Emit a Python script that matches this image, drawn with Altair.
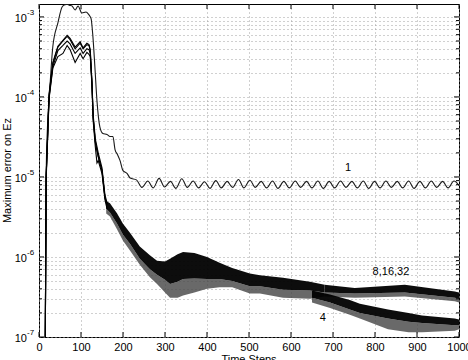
import altair as alt
import pandas as pd

# ---------------- data ----------------
# curve "1"
c1_steps = [15, 17, 20, 25, 33, 45, 55, 62, 67, 72, 78, 86, 93, 102, 112, 119, 124, 128, 133, 138,
            145, 152, 162, 169, 176, 181, 187, 193, 200, 210, 217,
            232, 245, 259, 272, 286, 299, 313, 326, 340, 353, 367, 380, 394, 407, 421, 434, 448, 461,
            475, 488, 502, 515, 529, 542, 556, 569, 583, 596, 610, 623, 637, 650, 664, 677, 691, 704,
            718, 731, 745, 758, 772, 785, 799, 812, 826, 839, 853, 866, 880, 893, 907, 920, 934, 947,
            961, 974, 988, 1000]
c1_vals = [1e-7, 1e-5, 4e-5, 1.1e-4, 4.3e-4, 8.4e-4, 1.33e-3, 1.42e-3, 1.44e-3, 1.40e-3, 1.38e-3,
           1.22e-3, 1.37e-3, 1.12e-3, 1.15e-3, 1.06e-3, 9.5e-4, 6e-4, 2.4e-4, 9e-5,
           4.2e-5, 3.5e-5, 3.4e-5, 3.2e-5, 3.2e-5, 2.2e-5, 1.9e-5, 1.6e-5, 1.2e-5, 1.1e-5, 9.7e-6,
           9.2e-6, 7.4e-6, 8.9e-6, 7.3e-6, 9.6e-6, 7.5e-6, 8.8e-6, 7.2e-6, 9.5e-6, 7.4e-6, 8.9e-6,
           7.3e-6, 8.7e-6, 7.2e-6, 9.0e-6, 7.3e-6, 8.8e-6, 7.4e-6, 9.3e-6, 7.3e-6, 9.1e-6, 7.4e-6,
           8.8e-6, 7.3e-6, 8.9e-6, 7.2e-6, 8.8e-6, 7.3e-6, 8.9e-6, 7.4e-6, 8.8e-6, 7.3e-6, 8.9e-6,
           7.2e-6, 8.8e-6, 7.3e-6, 8.9e-6, 7.4e-6, 8.8e-6, 7.3e-6, 8.9e-6, 7.2e-6, 8.8e-6, 7.3e-6,
           8.9e-6, 7.4e-6, 8.8e-6, 7.3e-6, 8.9e-6, 7.2e-6, 8.8e-6, 7.3e-6, 8.9e-6, 7.4e-6, 8.8e-6,
           7.3e-6, 8.9e-6, 7.8e-6]

# curves 4, 8, 16, 32 before they merge into a band
early_steps = [15, 17, 24, 33, 45, 57, 67, 74, 86, 98, 105, 114, 119, 122, 126, 129, 134, 138, 141, 150, 157, 162]
early_8 = [1e-7, 1e-5, 1.1e-4, 2.7e-4, 4.3e-4, 5.1e-4, 5.9e-4, 5.4e-4, 4.2e-4, 4.9e-4, 4.1e-4, 4.7e-4,
           4.5e-4, 3.9e-4, 1.6e-4, 6e-5, 3e-5, 2.4e-5, 2.0e-5, 1.3e-5, 6e-6, 4.7e-6]
early_16 = [1e-7, 1e-5, 1.05e-4, 2.6e-4, 4.2e-4, 5.0e-4, 5.7e-4, 5.2e-4, 4.0e-4, 4.7e-4, 4.0e-4, 4.5e-4,
            4.4e-4, 3.8e-4, 1.5e-4, 5.5e-5, 2.8e-5, 2.2e-5, 1.8e-5, 1.2e-5, 5.6e-6, 4.5e-6]
early_32 = [1e-7, 1e-5, 1.0e-4, 2.4e-4, 3.8e-4, 4.4e-4, 5.0e-4, 4.6e-4, 3.5e-4, 4.1e-4, 3.5e-4, 4.0e-4,
            3.9e-4, 3.5e-4, 1.5e-4, 5.5e-5, 2.7e-5, 2.1e-5, 1.8e-5, 1.2e-5, 5.5e-6, 4.4e-6]
early_4 = [1e-7, 9e-6, 9.5e-5, 2.3e-4, 3.2e-4, 3.5e-4, 4.4e-4, 3.9e-4, 2.7e-4, 3.5e-4, 3.0e-4, 3.6e-4,
           3.4e-4, 3.2e-4, 1.4e-4, 5e-5, 2.4e-5, 1.5e-5, 1.6e-5, 1.1e-5, 5.2e-6, 4.0e-6]

# merged band of curves 4, 8, 16, 32 (upper edge, lower edge of dark core, tip of the spikes)
band_steps = [160, 169, 186, 200, 217, 240, 264, 281, 300, 312, 330, 343, 370, 400, 430, 460, 502, 526, 581, 645, 680]
band_top = [5.0e-6, 4.7e-6, 3.5e-6, 2.6e-6, 2.0e-6, 1.35e-6, 1.05e-6, 9.0e-7, 8.8e-7, 9.5e-7, 1.08e-6, 1.15e-6,
            1.12e-6, 1.0e-6, 8.5e-7, 7.3e-7, 6.2e-7, 5.9e-7, 5.5e-7, 4.9e-7, 4.5e-7]
band_core = [4.0e-6, 3.6e-6, 2.6e-6, 1.9e-6, 1.45e-6, 9.5e-7, 7.0e-7, 6.0e-7, 5.2e-7, 4.6e-7, 4.9e-7, 5.3e-7,
             5.4e-7, 5.3e-7, 5.3e-7, 5.0e-7, 4.3e-7, 4.3e-7, 3.9e-7, 3.8e-7, 3.6e-7]
band_spike = [3.5e-6, 3.2e-6, 2.2e-6, 1.6e-6, 1.2e-6, 8.0e-7, 5.6e-7, 4.6e-7, 3.6e-7, 3.1e-7, 3.1e-7, 3.3e-7,
              3.6e-7, 4.0e-7, 4.2e-7, 4.2e-7, 3.5e-7, 3.5e-7, 3.1e-7, 3.0e-7, 3.2e-7]

# band of curves 8, 16, 32 after the split
up_steps = [680, 752, 871, 990, 1000]
up_top = [4.5e-7, 4.1e-7, 4.5e-7, 3.7e-7, 3.6e-7]
up_core = [3.6e-7, 3.5e-7, 3.6e-7, 3.1e-7, 3.0e-7]
up_spike = [3.2e-7, 3.1e-7, 3.2e-7, 2.8e-7, 2.7e-7]

# band of curve 4 after the split
low_steps = [650, 693, 740, 764, 831, 880, 912, 990, 1000]
low_top = [3.8e-7, 3.4e-7, 2.9e-7, 2.6e-7, 2.2e-7, 2.0e-7, 1.85e-7, 1.7e-7, 1.65e-7]
low_core = [3.1e-7, 2.7e-7, 2.2e-7, 2.0e-7, 1.7e-7, 1.55e-7, 1.5e-7, 1.4e-7, 1.4e-7]
low_spike = [2.7e-7, 2.3e-7, 1.9e-7, 1.7e-7, 1.25e-7, 1.15e-7, 1.15e-7, 1.2e-7, 1.25e-7]

# annotations
ann_text = ["1", "8,16,32", "4"]
ann_x = [736, 838, 676]
ann_y = [1.3e-5, 6.5e-7, 1.74e-7]

# axes
x_ticks = [0, 100, 200, 300, 400, 500, 600, 700, 800, 900, 1000]
y_major = [1e-7, 1e-6, 1e-5, 1e-4, 1e-3]
y_exp = ["-7", "-6", "-5", "-4", "-3"]
y_minor = [m * 10.0 ** k for k in range(-7, -3 + 1) for m in range(2, 10) if m * 10.0 ** k < 1.45e-3]
y_grid = sorted(y_major + y_minor)

# ---------------- chart ----------------
W, H = 420, 333
FONT = "Liberation Sans"
GRID = "#a0a0a0"
xs = alt.Scale(domain=[0, 1000], nice=False, zero=False)
ys = alt.Scale(type="log", domain=[1e-7, 1.45e-3], nice=False)

df1 = pd.DataFrame({"step": c1_steps, "err": c1_vals})
early = pd.concat([
    pd.DataFrame({"step": early_steps, "err": v, "s": name})
    for name, v in [("4", early_4), ("32", early_32), ("16", early_16), ("8", early_8)]
])
bands = pd.concat([
    pd.DataFrame({"step": band_steps, "top": band_top, "core": band_core, "spike": band_spike, "b": "all"}),
    pd.DataFrame({"step": up_steps, "top": up_top, "core": up_core, "spike": up_spike, "b": "up"}),
    pd.DataFrame({"step": low_steps, "top": low_top, "core": low_core, "spike": low_spike, "b": "low"}),
])

x_axis = alt.Axis(values=x_ticks, grid=True, gridColor=GRID, gridDash=[1, 3], gridWidth=1,
                  ticks=False, domain=False, labelFont=FONT, labelFontSize=11, labelColor="black",
                  labelPadding=4, labelFlush=False, title=None, format="d")
y_axis = alt.Axis(values=y_grid, grid=True, gridColor=GRID, gridDash=[1, 3], gridWidth=1,
                  ticks=False, domain=False, labels=False, title=None)


def X(field):
    return alt.X(field, scale=xs, axis=x_axis)


def Y(field):
    return alt.Y(field, scale=ys, axis=y_axis)


curve1 = alt.Chart(df1).mark_line(color="#1a1a1a", strokeWidth=1.1, clip=True, interpolate="monotone").encode(
    x=X("step:Q"), y=Y("err:Q"))

early_lines = alt.Chart(early).mark_line(color="black", strokeWidth=1.1, clip=True).encode(
    x=X("step:Q"), y=Y("err:Q"), detail="s:N")

spike_area = alt.Chart(bands).mark_area(color="#444444", opacity=0.8, clip=True).encode(
    x=X("step:Q"), y=Y("core:Q"), y2="spike:Q", detail="b:N")
core_area = alt.Chart(bands).mark_area(color="black", opacity=0.95, clip=True).encode(
    x=X("step:Q"), y=Y("top:Q"), y2="core:Q", detail="b:N")

ann = alt.Chart(pd.DataFrame({"t": ann_text, "x": ann_x, "y": ann_y})).mark_text(
    font=FONT, fontSize=11, color="black").encode(x=X("x:Q"), y=Y("y:Q"), text="t:N")

ylab_df = pd.DataFrame({"v": y_major, "e": y_exp, "b": ["10"] * len(y_major)})
ylab10 = alt.Chart(ylab_df).mark_text(font=FONT, fontSize=11, color="black", align="right",
                                      baseline="middle", dy=2).encode(
    x=alt.value(-12), y=Y("v:Q"), text="b:N")
ylabexp = alt.Chart(ylab_df).mark_text(font=FONT, fontSize=8, color="black", align="left",
                                       baseline="middle", dy=-4).encode(
    x=alt.value(-12), y=Y("v:Q"), text="e:N")

# inward ticks (MATLAB style)
xt = pd.DataFrame({"x": x_ticks})
xticks_b = alt.Chart(xt).mark_rule(color="black", strokeWidth=1).encode(
    x=X("x:Q"), y=alt.value(H), y2=alt.value(H - 5))
xticks_t = alt.Chart(xt).mark_rule(color="black", strokeWidth=1).encode(
    x=X("x:Q"), y=alt.value(0), y2=alt.value(5))
ymaj = pd.DataFrame({"v": y_major})
ymin = pd.DataFrame({"v": y_minor})
yt_l = alt.Chart(ymaj).mark_rule(color="black").encode(y=Y("v:Q"), x=alt.value(0), x2=alt.value(5))
yt_r = alt.Chart(ymaj).mark_rule(color="black").encode(y=Y("v:Q"), x=alt.value(W), x2=alt.value(W - 5))
ytm_l = alt.Chart(ymin).mark_rule(color="black").encode(y=Y("v:Q"), x=alt.value(0), x2=alt.value(3))
ytm_r = alt.Chart(ymin).mark_rule(color="black").encode(y=Y("v:Q"), x=alt.value(W), x2=alt.value(W - 3))

xtitle = alt.Chart(pd.DataFrame({"t": ["Time Steps"]})).mark_text(
    font=FONT, fontSize=11, color="black", align="center", baseline="top").encode(
    x=alt.value(W / 2), y=alt.value(H + 17), text="t:N")
ytitle = alt.Chart(pd.DataFrame({"t": ["Maximum error on Ez"]})).mark_text(
    font=FONT, fontSize=11, color="black", align="center", baseline="middle", angle=270).encode(
    x=alt.value(-31), y=alt.value(H / 2), text="t:N")

chart = alt.layer(
    curve1, spike_area, core_area, early_lines, ann, ylab10, ylabexp,
    xticks_b, xticks_t, yt_l, yt_r, ytm_l, ytm_r, xtitle, ytitle,
).properties(
    width=W, height=H,
    padding={"left": 39, "top": 4, "right": 9, "bottom": 23},
    autosize=alt.AutoSizeParams(type="none"),
    background="white",
).configure_view(stroke="black", strokeWidth=1)

chart.save("out.html", embed_options={"renderer": "svg", "actions": False})
